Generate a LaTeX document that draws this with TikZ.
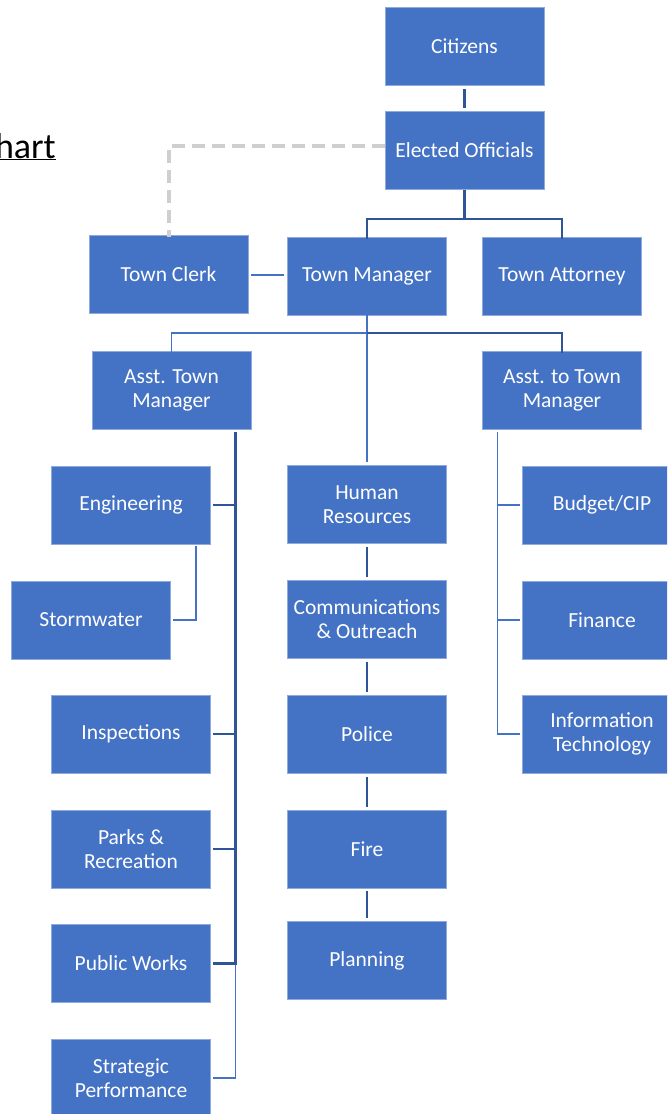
\documentclass[tikz,border=0pt]{standalone}
\usepackage{fontspec}
\setmainfont{Carlito}
\usetikzlibrary{positioning}

\definecolor{boxblue}{HTML}{4472C4}
\definecolor{rimblue}{HTML}{8FAADC}
\definecolor{lineblue}{HTML}{2F5597}
\definecolor{dashgray}{HTML}{D0CECE}

\begin{document}
\begin{tikzpicture}[x=1pt, y=-1pt,
    unit/.style={draw=rimblue, line width=0.8pt, fill=boxblue, text=white, rectangle,
        minimum width=159pt, minimum height=78pt, inner sep=1pt, align=center,
        font=\fontsize{21.5}{24}\selectfont},
    link/.style={draw=lineblue, line width=2.6pt},
    thinlink/.style={draw=boxblue, line width=1.3pt},
    dashlink/.style={draw=dashgray, line width=4pt, dash pattern=on 13pt off 7pt},
    gap/.style={shorten <=3pt, shorten >=3pt}]
    \useasboundingbox (0,0) rectangle (667,1114);
    \clip (0,0) rectangle (667,1114);

    % title, cut off at the left edge
    \node[anchor=base east, inner sep=0pt, font=\fontsize{36}{42}\selectfont] (title) at (56,158) {\underline{hart}};

    % top of the chart
    \node[unit] (citizens) at (464.5,46.5) {Citizens};
    \node[unit, below=25pt of citizens] (elected) {Elected Officials};
    \node[unit] (clerk) at (168.5,274) {Town Clerk};
    \node[unit] (manager) at (367,276) {Town Manager};
    \node[unit] (attorney) at (562,276) {Town Attorney};
    \node[unit] (asst) at (171.5,390.5) {Asst. Town\\Manager};
    \node[unit] (assto) at (562,390.5) {Asst. to Town\\Manager};

    % left column
    \node[unit] (engineering) at (131,505) {Engineering};
    \node[unit] (stormwater) at (91,620) {Stormwater};
    \node[unit] (inspections) at (131,734) {Inspections};
    \node[unit] (parks) at (131,849) {Parks \&\\Recreation};
    \node[unit] (works) at (131,963.5) {Public Works};
    \node[unit] (strategic) at (131,1078) {Strategic\\Performance};

    % middle column
    \node[unit] (hr) at (367,504.5) {Human\\Resources};
    \node[unit, below=36pt of hr] (comm) {Communications\\\& Outreach};
    \node[unit, below=36pt of comm] (police) {Police};
    \node[unit, below=36pt of police] (fire) {Fire};
    \node[unit, below=33pt of fire] (planning) {Planning};

    % right column
    \node[unit] (budget) at (602,505) {Budget/CIP};
    \node[unit] (finance) at (602,620) {Finance};
    \node[unit] (infotech) at (602,734) {Information\\Technology};

    \coordinate (forkA) at (464.5,219);
    \coordinate (forkB) at (367,333);
    \coordinate (spineL) at (235.5,432);
    \coordinate (spineR) at (497.5,432);

    \draw[link, gap] (citizens) -- (elected);
    \draw[link] (elected) -- (forkA) -| ([yshift=-2pt]manager.north);
    \draw[link] (forkA) -| ([yshift=-2pt]attorney.north);
    \draw[dashlink] (elected.west |- 0,146) -| ([yshift=-2pt]clerk.north);
    \draw[thinlink, gap] (clerk.east |- 0,275) -- (manager.west |- 0,275);

    \draw[thinlink, shorten >=3pt] (manager) -- (hr);
    \draw[thinlink] (forkB) -| ([yshift=-2pt]asst.north);
    \draw[link] (forkB) -| ([yshift=-2pt]assto.north);

    % branches of the assistants
    \draw[thinlink, shorten >=2pt] (spineL) |- (strategic.east);
    \foreach \n in {engineering, inspections, parks, works}
        \draw[link, shorten >=2pt] (spineL) |- (\n.east);
    \foreach \n in {budget, finance, infotech}
        \draw[thinlink, shorten >=2pt] (spineR) |- (\n.west);
    \draw[thinlink, shorten >=2pt] ([xshift=-15pt, yshift=-2pt]engineering.south east) |- (stormwater.east);

    \draw[link, gap] (hr) -- (comm);
    \draw[link, gap] (comm) -- (police);
    \draw[link, gap] (police) -- (fire);
    \draw[link, gap] (fire) -- (planning);
\end{tikzpicture}
\end{document}
